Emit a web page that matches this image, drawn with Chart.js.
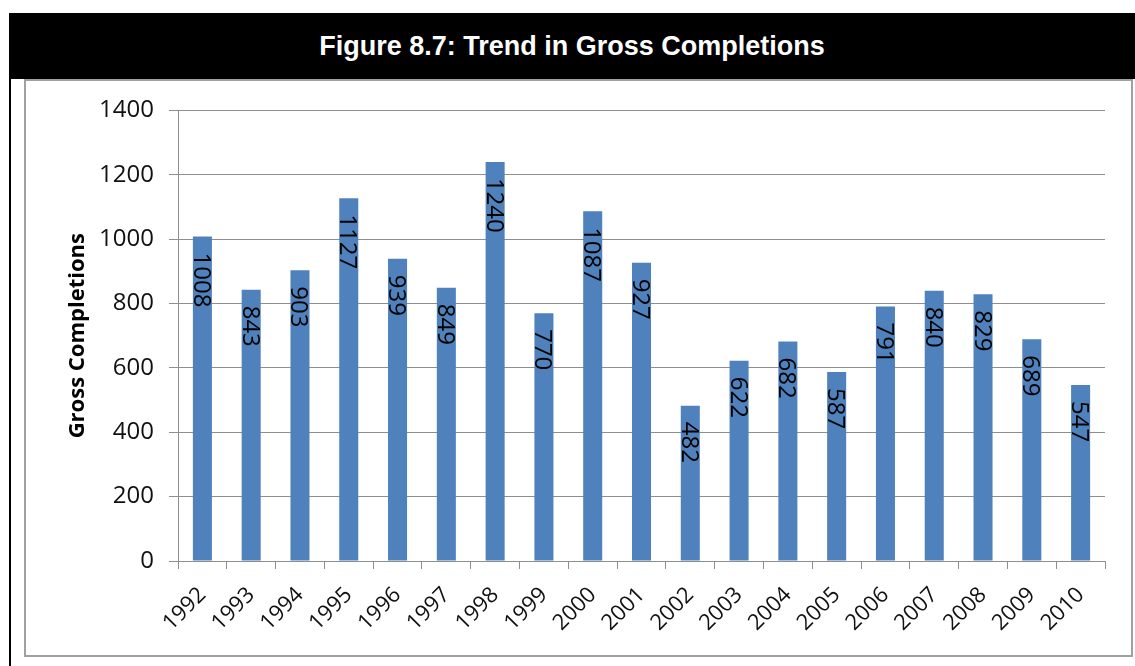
<!DOCTYPE html>
<html>
<head>
<meta charset="utf-8">
<script src="https://cdn.jsdelivr.net/npm/chart.js@4/dist/chart.umd.min.js"></script>
<style>
  html, body { margin:0; padding:0; background:#fff; }
  body { width:1135px; height:666px; position:relative; overflow:hidden; }
  #hdr { position:absolute; left:9px; top:13px; width:1126px; height:66px; background:#000; color:#fff;
         font:bold 27px "Liberation Sans", Arial, sans-serif; display:flex; align-items:center; justify-content:center; }
  #lline { position:absolute; left:9px; top:79px; width:2px; height:587px; background:#000; }
  #frame { position:absolute; left:24px; top:79px; width:1109px; height:578px; box-sizing:border-box; border:2px solid #a0a0a0; }
  #cv { position:absolute; left:26px; top:81px; }
</style>
</head>
<body>
<div id="hdr">Figure 8.7: Trend in Gross Completions</div>
<div id="lline"></div>
<div id="frame"></div>
<canvas id="cv" width="1105" height="574"></canvas>
<script>
const years = ['1992','1993','1994','1995','1996','1997','1998','1999','2000','2001','2002','2003','2004','2005','2006','2007','2008','2009','2010'];
const completions = [1008, 843, 903, 1127, 939, 849, 1240, 770, 1087, 927, 482, 622, 682, 587, 791, 840, 829, 689, 547];
const yTicks = [0, 200, 400, 600, 800, 1000, 1200, 1400];
const yTitle = 'Gross Completions';

const gridColor = '#8e8e8e';
const labelFont = '"Open Sans", sans-serif';

const barLabels = {
  id: 'barLabels',
  afterDatasetsDraw(chart) {
    const ctx = chart.ctx;
    const meta = chart.getDatasetMeta(0);
    ctx.save();
    ctx.font = '24px ' + labelFont;
    ctx.fillStyle = '#000';
    ctx.textAlign = 'left';
    ctx.textBaseline = 'alphabetic';
    meta.data.forEach((bar, i) => {
      const txt = String(completions[i]);
      const m = ctx.measureText(txt);
      const a = m.actualBoundingBoxAscent, d = m.actualBoundingBoxDescent;
      ctx.save();
      ctx.translate(bar.x, bar.y + 16);
      ctx.rotate(Math.PI / 2);
      ctx.fillText(txt, 0, (a - d) / 2);
      ctx.restore();
    });
    ctx.restore();
  }
};

new Chart(document.getElementById('cv'), {
  type: 'bar',
  data: {
    labels: years,
    datasets: [{
      data: completions,
      backgroundColor: '#4F81BD',
      borderWidth: 0,
      categoryPercentage: 1.0,
      barPercentage: 0.39
    }]
  },
  plugins: [barLabels],
  options: {
    responsive: false,
    animation: false,
    devicePixelRatio: 1,
    layout: { padding: { left: 0, top: 29, right: 26, bottom: 0 } },
    plugins: { legend: { display: false }, tooltip: { enabled: false }, title: { display: false } },
    scales: {
      x: {
        offset: true,
        grid: { display: true, drawOnChartArea: false, drawTicks: true, tickLength: 8, color: gridColor, offset: true },
        border: { display: true, color: gridColor },
        ticks: { autoSkip: false, minRotation: 45, maxRotation: 45, padding: 13, labelOffset: 0,
                 color: '#111', font: { family: labelFont, size: 22 } },
        afterFit(s) { s.height = 94; }
      },
      y: {
        min: 0, max: 1400,
        afterBuildTicks(s) { s.ticks = yTicks.map(v => ({ value: v })); },
        grid: { color: gridColor, tickLength: 9, drawTicks: true },
        border: { display: true, color: gridColor },
        ticks: { padding: 15, color: '#111', font: { family: labelFont, size: 24 },
                 callback: (v) => String(v) },
        title: { display: true, text: yTitle, color: '#000', padding: { top: 39, bottom: 0 },
                 font: { family: labelFont, size: 22, weight: 'bold' } },
        afterFit(s) { s.width = 152; }
      }
    }
  }
});
</script>
</body>
</html>
